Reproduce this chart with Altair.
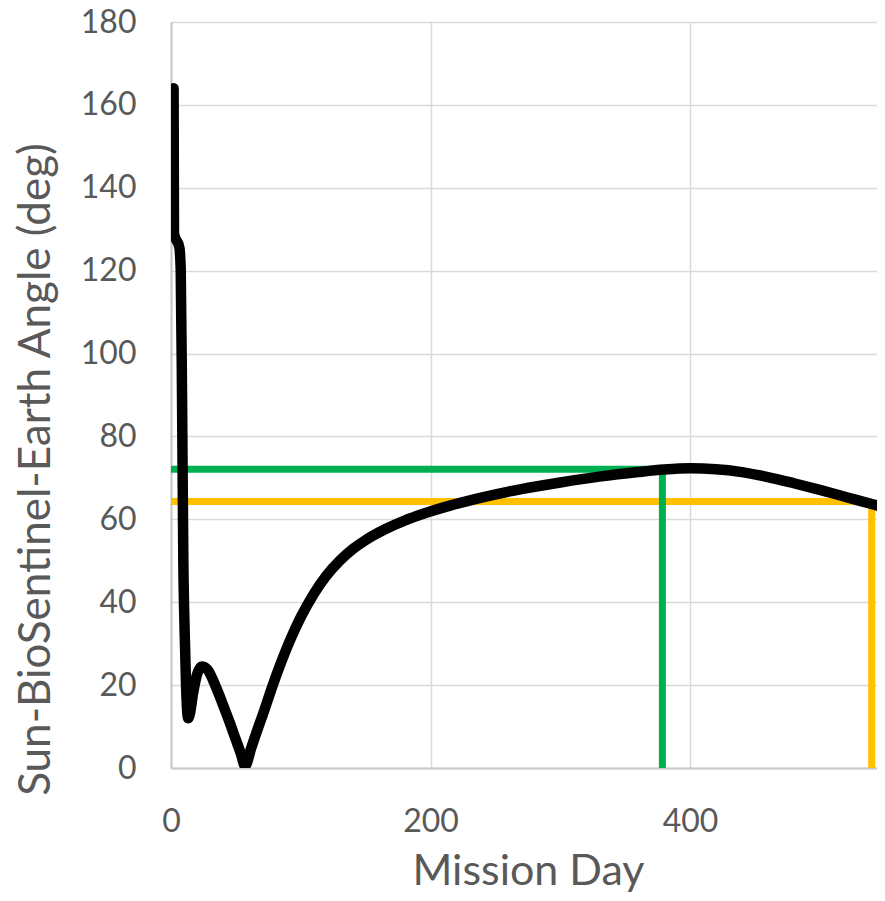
import altair as alt
import pandas as pd

# Sun-BioSentinel-Earth angle vs mission day
days = [2.0, 2.3, 6.5, 7.5, 8.5, 9.5, 10.6, 11.6, 12.4, 13.2, 14.5, 17.0, 20.0, 23.6,
        28.0, 32.0, 36.0, 40.0, 45.0, 50.0, 54.0, 57.0,
        62.0, 67.0, 72.0, 78.0, 85.0, 92.0, 100.0, 110.0, 120.0, 130.0,
        140.0, 150.0, 165.0, 180.0, 195.0, 215.0, 240.0, 270.0, 300.0, 330.0,
        360.0, 380.0, 400.0, 420.0, 440.0, 460.0, 480.0, 500.0, 520.0, 540.0, 550.0]
angles = [164.0, 129.0, 125.5, 120.0, 90.0, 50.0, 32.0, 20.0, 14.0, 12.0, 13.0, 18.0, 22.5, 24.5,
          23.8, 21.5, 18.5, 15.3, 11.2, 6.8, 3.3, 0.5,
          5.0, 9.6, 14.0, 19.6, 25.6, 31.0, 36.4, 42.0, 46.5, 50.0,
          52.8, 55.0, 57.6, 59.7, 61.4, 63.3, 65.3, 67.3, 68.9, 70.3,
          71.4, 72.0, 72.3, 72.1, 71.4, 70.2, 68.7, 67.1, 65.4, 63.7, 62.85]

# Reference markers (horizontal + vertical guide lines)
guide_names = ["green", "orange"]
guide_days = [378.7, 540.0]
guide_angles = [72.1, 64.3]
guide_colors = ["#00b050", "#ffc000"]

x_ticks = [0, 200, 400]
y_ticks = [0, 20, 40, 60, 80, 100, 120, 140, 160, 180]

curve = pd.DataFrame({"day": days, "angle": angles})
guides = pd.DataFrame({"name": guide_names, "day": guide_days,
                       "angle": guide_angles, "color": guide_colors})
guides["zero"] = 0.0

FONT = "Lato"
TXT = "#595959"
XMAX = 544.1

x_scale = alt.Scale(domain=[0, XMAX], nice=False, zero=False)
y_scale = alt.Scale(domain=[0, 180], nice=False)

x_axis = alt.Axis(values=x_ticks, title="Mission Day", grid=True, gridColor="#d9d9d9",
                  gridWidth=1.5, domainColor="#c8c8c8", domainWidth=2, ticks=False,
                  labelFont=FONT, labelFontSize=32, labelColor=TXT, labelPadding=38,
                  labelFlush=False, titleFont=FONT, titleFontSize=43, titleColor=TXT,
                  titleFontWeight="normal", titleBaseline="alphabetic",
                  titleX=357, titleY=116, titleAnchor="start", titleAlign="center")
y_axis = alt.Axis(values=y_ticks, title="Sun-BioSentinel-Earth Angle (deg)", grid=True,
                  gridColor="#d9d9d9", gridWidth=1.5, domainColor="#c8c8c8", domainWidth=2,
                  ticks=False, labelFont=FONT, labelFontSize=32, labelColor=TXT,
                  labelPadding=35, titleFont=FONT, titleFontSize=44, titleColor=TXT,
                  titleFontWeight="normal", titleBaseline="alphabetic", titleAngle=-90,
                  titleX=-122, titleY=447, titleAlign="center", titleAnchor="start")

hrules = alt.Chart(guides).mark_rule(strokeWidth=7, strokeCap="butt").encode(
    x=alt.X("zero:Q", scale=x_scale, axis=x_axis),
    x2="day:Q",
    y=alt.Y("angle:Q", scale=y_scale, axis=y_axis),
    color=alt.Color("color:N", scale=None),
)
vrules = alt.Chart(guides).mark_rule(strokeWidth=7, strokeCap="butt").encode(
    x=alt.X("day:Q", scale=x_scale),
    y=alt.Y("zero:Q", scale=y_scale),
    y2="angle:Q",
    color=alt.Color("color:N", scale=None),
)
line = alt.Chart(curve).mark_line(color="black", strokeWidth=10.5, interpolate="monotone",
                                  strokeCap="round", strokeJoin="round", clip=True).encode(
    x=alt.X("day:Q", scale=x_scale),
    y=alt.Y("angle:Q", scale=y_scale),
    order="day:Q",
)

chart = alt.layer(hrules, vrules, line).properties(
    width=706, height=746,
    autosize=alt.AutoSizeParams(type="none"),
    padding={"left": 163, "top": 14, "right": 0, "bottom": 125},
).configure_view(stroke=None).configure(background="white")

chart.save("out.html", embed_options={"renderer": "svg", "actions": False})
